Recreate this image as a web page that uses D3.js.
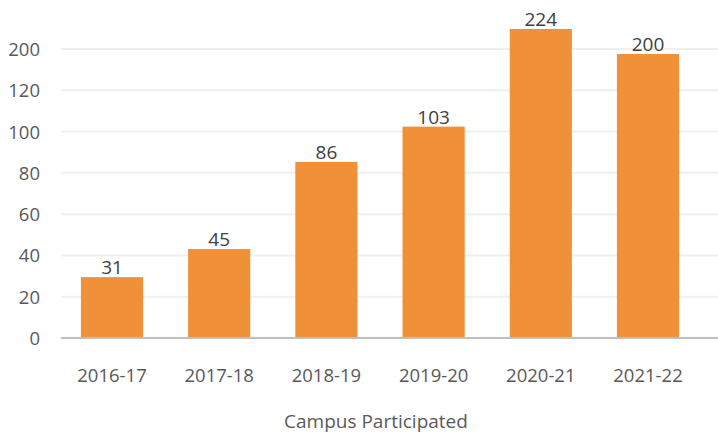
<!DOCTYPE html>
<html>
<head>
<meta charset="utf-8" />
<title>Campus Participated</title>
<style>
  body { margin: 0; background: #fff; }
  svg text { font-family: "Open Sans", "Noto Sans", sans-serif; }
</style>
</head>
<body>
<svg id="chart"></svg>
<script src="https://d3js.org/d3.v7.min.js"></script>
<script>
var width = 718;
var height = 436;

// data
var years = ["2016-17", "2017-18", "2018-19", "2019-20", "2020-21", "2021-22"];
// bar heights on the axis scale (the axis tops out at a tick labelled 200)
var barHeights = [29.5, 43.1, 85.3, 102.4, 149.7, 137.6];
var barLabels = ["31", "45", "86", "103", "224", "200"];
var tickValues = [0, 20, 40, 60, 80, 100, 120, 140];
var tickLabels = ["0", "20", "40", "60", "80", "100", "120", "200"];
var axisTitle = "Campus Participated";

var svg = d3.select("#chart")
  .attr("width", width)
  .attr("height", height);

var x = d3.scaleBand()
  .domain(years)
  .range([58.4, 701.6])
  .paddingInner(0.42)
  .paddingOuter(0.21);

var y = d3.scaleLinear()
  .domain([0, 140])
  .range([338, 49]);

// gridlines
svg.append("g")
  .selectAll("line")
  .data(tickValues.slice(1))
  .enter().append("line")
  .attr("x1", 61)
  .attr("x2", width)
  .attr("y1", d => y(d))
  .attr("y2", d => y(d))
  .attr("stroke", "#efefef")
  .attr("stroke-width", 2);

// y tick labels
var yAxis = d3.axisLeft(y)
  .tickValues(tickValues)
  .tickFormat((d, i) => tickLabels[i])
  .tickSize(0)
  .tickPadding(0);

var ya = svg.append("g")
  .attr("transform", "translate(40,0)")
  .call(yAxis);
ya.select(".domain").remove();
ya.selectAll("text")
  .attr("fill", "#595959")
  .style("font-size", "18.5px")
  .attr("dy", "0.35em");

// bars
svg.append("g")
  .selectAll("rect")
  .data(years)
  .enter().append("rect")
  .attr("x", d => x(d))
  .attr("width", x.bandwidth())
  .attr("y", (d, i) => y(barHeights[i]))
  .attr("height", (d, i) => y(0) - y(barHeights[i]))
  .attr("fill", "#f0913a");

// data labels
svg.append("g")
  .selectAll("text")
  .data(years)
  .enter().append("text")
  .attr("x", d => x(d) + x.bandwidth() / 2)
  .attr("y", (d, i) => y(barHeights[i]) - 3)
  .attr("text-anchor", "middle")
  .attr("fill", "#404040")
  .style("font-size", "19px")
  .text((d, i) => barLabels[i]);

// x axis
var xAxis = d3.axisBottom(x).tickSize(0).tickPadding(0);
var xa = svg.append("g")
  .attr("transform", "translate(0,338)")
  .call(xAxis);
xa.select(".domain").remove();
xa.selectAll("text")
  .attr("fill", "#595959")
  .attr("y", 44)
  .attr("dy", 0)
  .style("font-size", "18.5px");

svg.append("line")
  .attr("x1", 61)
  .attr("x2", width)
  .attr("y1", y(0))
  .attr("y2", y(0))
  .attr("stroke", "#bfbfbf")
  .attr("stroke-width", 2);

svg.append("text")
  .attr("x", 376)
  .attr("y", 428)
  .attr("text-anchor", "middle")
  .attr("fill", "#595959")
  .style("font-size", "19px")
  .text(axisTitle);
</script>
</body>
</html>
